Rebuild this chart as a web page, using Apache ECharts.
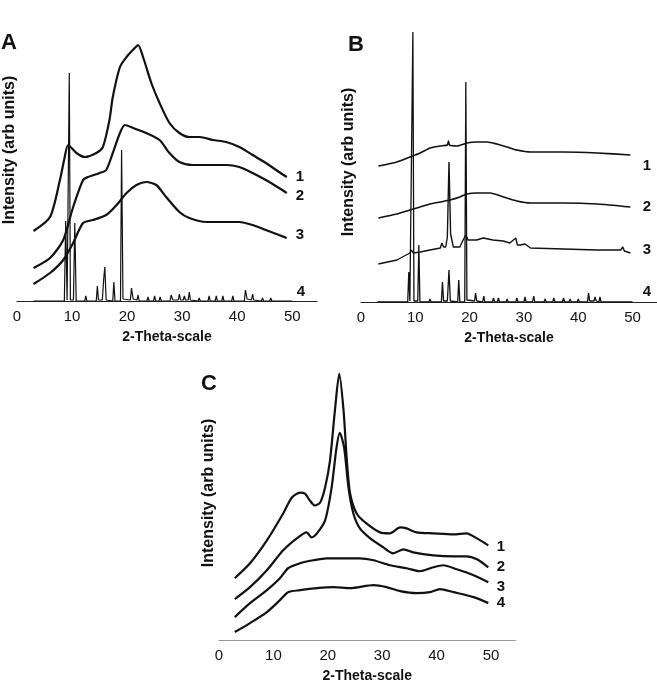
<!DOCTYPE html>
<html>
<head>
<meta charset="utf-8">
<script src="https://cdn.jsdelivr.net/npm/echarts@6/dist/echarts.min.js"></script>
<style>
    html, body {margin: 0; padding: 0; background: #fff;}
    #xrdCharts {width: 657px; height: 684px;}
</style>
</head>
<body>
<div id="xrdCharts"></div>
<script>
// 2-Theta 轴刻度
var thetaTicks = [0, 10, 20, 30, 40, 50];
var traceNames = ["1", "2", "3", "4"];

// 面板 A 的曲线 [2theta, 强度]
var a1 = [[3, 70], [6, 84], [7.8, 121], [8.6, 142], [9.3, 156], [10.8, 148], [12.3, 144], [14.4, 148], [15.6, 154],
    [16.8, 181], [17.4, 204], [18.7, 234], [19.9, 244], [21.4, 253], [22, 256], [22.9, 244], [24.4, 218],
    [25.9, 198], [27.7, 178], [29.5, 168], [31.3, 164], [33.2, 164], [35.6, 161], [38, 159], [40.4, 154],
    [42.8, 146], [45.2, 138], [47.6, 129], [49, 124]];
var a2 = [[3, 33], [6, 43], [8.4, 61], [10.2, 94], [12, 121], [12.9, 124], [15, 128], [16.2, 131], [17.4, 148],
    [18.7, 168], [19.6, 176], [21.1, 173], [23.5, 168], [25.9, 161], [27.7, 148], [29.5, 139], [31.9, 136],
    [34.4, 136], [38, 136], [40.4, 134], [42.8, 128], [45.2, 121], [47.6, 113], [49, 108]];
var a3 = [[3, 17], [6, 28], [8.4, 41], [10.2, 58], [12, 78], [13.8, 81], [16.2, 86], [18.1, 96], [19.9, 108],
    [21.7, 116], [23.5, 119], [25.3, 116], [27.1, 104], [29.5, 89], [31.3, 83], [34.4, 79], [38, 79],
    [40.4, 79], [42.8, 76], [45.2, 71], [47.6, 66], [49, 63]];
var a4 = [[3, 0], [8.6, 0], [8.85, 80], [9.1, 1], [9.3, 1], [9.5, 228], [9.7, 1], [10.25, 1], [10.5, 78], [10.75, 0],
    [12.3, 0], [12.5, 5], [12.7, 0], [14.4, 0], [14.6, 15], [14.8, 1], [15.5, 1], [15.75, 22], [15.95, 34], [16.2, 1],
    [17.4, 0], [17.6, 19], [17.8, 0], [18.8, 0], [19.0, 151], [19.25, 2], [20.6, 1], [20.8, 13], [21.1, 2],
    [21.8, 1], [22.0, 6], [22.2, 0], [23.6, 0], [23.8, 4], [24.0, 0], [24.8, 0], [25.0, 5], [25.2, 0],
    [25.8, 0], [26.0, 4], [26.2, 0], [27.8, 0], [28.0, 6], [28.3, 1], [29.3, 1], [29.5, 7], [29.7, 1],
    [30.2, 1], [30.4, 5], [30.6, 1], [31.1, 1], [31.3, 9], [31.5, 1], [32.9, 0], [33.1, 3], [33.3, 0],
    [34.7, 0], [34.9, 5], [35.1, 0], [36.0, 0], [36.2, 5], [36.4, 0], [37.2, 0], [37.4, 5], [37.6, 0],
    [39.0, 0], [39.2, 5], [39.4, 0], [41.3, 0], [41.5, 11], [41.8, 2], [42.6, 1], [42.8, 7], [43.0, 1],
    [44.4, 0], [44.6, 3], [44.8, 0], [45.9, 0], [46.1, 3], [46.3, 0], [48.0, 0], [48.2, 2], [48.4, 0], [50, 0]];

// 面板 B 的曲线
var b1 = [[3.2, 136], [6.6, 140], [9, 145], [10.9, 149], [12.7, 154], [14.6, 156], [15.9, 157], [16.1, 161],
    [16.3, 157], [17.7, 156], [19.5, 159], [21.3, 160], [23.2, 160], [25, 158], [26.9, 155], [28.7, 152],
    [31.2, 150], [37.3, 150], [43.5, 149], [49.6, 147]];
var b2 = [[3.2, 84], [6.6, 88], [9, 92], [10.9, 95], [12.7, 98], [14.6, 100], [16.4, 102], [18.2, 105],
    [19.5, 108], [21.3, 109], [23.8, 109], [26.2, 105], [28.7, 101], [31.2, 99], [37.3, 99], [43.5, 98], [49.6, 95]];
var b3 = [[3.2, 38], [6.6, 42], [9, 49], [9.3, 52], [9.6, 49], [10.9, 50], [12.7, 52], [14.6, 54], [14.9, 59],
    [15.2, 55], [15.6, 55], [15.9, 65], [16.2, 140], [16.5, 68], [17, 55], [18.2, 55], [18.8, 62], [19.3, 67],
    [19.7, 62], [21.3, 62], [22.5, 64], [24.3, 62], [26.2, 61], [27.4, 59], [28.5, 64], [28.8, 57], [29.3, 57],
    [30.2, 58], [31.2, 54], [37.3, 53], [43.5, 52], [47.8, 52], [48.2, 55], [48.5, 51], [49.6, 49]];
var b4 = [[3, 0], [8.6, 0], [8.8, 30], [9.0, 1], [9.35, 1], [9.55, 270], [9.75, 1], [10.45, 1], [10.65, 57], [10.85, 0],
    [12.5, 0], [12.7, 3], [12.9, 0], [14.8, 0], [15.0, 20], [15.2, 1], [15.9, 1], [16.2, 32], [16.45, 1],
    [17.8, 0], [18.0, 22], [18.2, 0], [19.1, 0], [19.3, 220], [19.5, 2], [20.9, 1], [21.1, 9], [21.3, 1],
    [22.4, 0], [22.6, 6], [22.8, 0], [24.2, 0], [24.4, 4], [24.6, 0], [25.1, 0], [25.3, 4], [25.5, 0],
    [26.7, 0], [26.9, 3], [27.1, 0], [28.5, 0], [28.7, 4], [28.9, 0], [30.0, 0], [30.2, 5], [30.4, 0],
    [31.6, 0], [31.8, 6], [32.0, 0], [33.7, 0], [33.9, 3], [34.1, 0], [35.3, 0], [35.5, 4], [35.7, 0],
    [37.1, 0], [37.3, 4], [37.5, 0], [38.3, 0], [38.5, 3], [38.7, 0], [39.8, 0], [40.0, 3], [40.2, 0],
    [41.7, 0], [41.9, 9], [42.1, 1], [42.9, 1], [43.1, 5], [43.3, 1], [43.8, 0], [44.0, 5], [44.2, 0], [50, 0]];

// 面板 C 的曲线
var c1 = [[2.9, 62], [5.7, 77], [8.8, 100], [11.8, 127], [13.4, 143], [14.9, 148], [15.8, 147], [16.7, 140],
    [17.6, 135], [18.6, 138], [19.5, 153], [20.4, 180], [21.3, 230], [22.1, 267], [22.9, 230], [23.5, 180],
    [24.1, 147], [25.3, 127], [27.1, 117], [29.6, 108], [31.4, 107], [33.3, 113], [34.5, 112], [36.3, 108],
    [39.4, 107], [43.1, 106], [45.5, 107], [47.4, 102], [49.5, 95]];
var c2 = [[2.9, 41], [5.7, 53], [8.8, 70], [11.8, 90], [14.3, 102], [16.1, 108], [17, 103], [18, 107],
    [19.5, 120], [20.7, 153], [21.6, 193], [22.2, 208], [23, 193], [23.8, 153], [24.7, 127], [25.9, 112],
    [27.8, 102], [30.2, 93], [32, 87], [33.9, 91], [35.7, 88], [39.4, 85], [43.1, 84], [45.5, 84],
    [47.4, 81], [49.5, 73]];
var c3 = [[2.9, 23], [5.7, 37], [8.8, 50], [11.2, 62], [12.7, 72], [14.9, 77], [17.3, 80], [19.8, 82],
    [22.2, 82], [25.9, 82], [28.4, 80], [31.4, 75], [34.5, 72], [36.9, 69], [39.4, 73], [41.2, 75],
    [43.7, 71], [46.8, 65], [49.5, 58]];
var c4 = [[2.9, 8], [5.7, 17], [8.8, 28], [11.2, 40], [12.7, 48], [14.9, 50], [18, 52], [21, 53], [24.1, 52],
    [28.4, 55], [30.8, 53], [33.3, 49], [36.3, 47], [38.8, 48], [40.6, 51], [43.1, 48], [46.8, 43], [49.5, 37]];

var FONT = "'Liberation Sans', Arial, Helvetica, sans-serif";
var INK = "#111";

var chartDom = document.getElementById('xrdCharts');
var myChart = echarts.init(chartDom);

function makeXAxis(gridIndex, lineColor) {
    return {
        type: 'value',
        gridIndex: gridIndex,
        min: 0,
        max: 54.5,
        interval: 10,
        name: '2-Theta-scale',
        nameLocation: 'middle',
        nameGap: 29,
        nameTextStyle: {fontFamily: FONT, fontSize: 14, fontWeight: 'bold', color: INK},
        axisLine: {show: true, lineStyle: {color: lineColor, width: 1.2}},
        axisTick: {show: false},
        splitLine: {show: false},
        axisLabel: {
            fontFamily: FONT, fontSize: 15, color: INK, margin: 8,
            showMaxLabel: false,
            formatter: function (v) {
                return thetaTicks.indexOf(v) >= 0 ? String(v) : '';
            }
        }
    };
}

function makeYAxis(gridIndex, max) {
    return {type: 'value', gridIndex: gridIndex, min: 0, max: max, show: false};
}

function makeLine(data, gridIndex, width, smooth) {
    return {
        type: 'line',
        xAxisIndex: gridIndex,
        yAxisIndex: gridIndex,
        data: data,
        showSymbol: false,
        smooth: smooth,
        lineStyle: {color: INK, width: width},
        silent: true
    };
}

function textItem(txt, x, y, size, rotate) {
    return {
        type: 'text',
        x: x,
        y: y,
        rotation: rotate ? Math.PI / 2 : 0,
        style: {
            text: txt,
            fontFamily: FONT,
            fontSize: size,
            fontWeight: 'bold',
            fill: INK,
            textAlign: 'center',
            textVerticalAlign: 'middle'
        }
    };
}

var labelPos = {
    A: [[300, 177], [300, 196], [300, 235], [301, 292]],
    B: [[647, 166], [647, 207], [647, 250], [647, 292]],
    C: [[501, 547], [501, 567], [501, 587], [501, 603]]
};

var graphics = [
    textItem('A', 9, 43, 22, false),
    textItem('B', 356, 45, 22, false),
    textItem('C', 209, 384, 22, false),
    textItem('Intensity (arb units)', 10, 150, 16, true),
    textItem('Intensity (arb units)', 349, 162, 16, true),
    textItem('Intensity (arb units)', 209, 493, 16, true)
];
for (var key in labelPos) {
    labelPos[key].forEach(function (p, i) {
        graphics.push(textItem(traceNames[i], p[0], p[1], 15, false));
    });
}

var option = {
    animation: false,
    backgroundColor: '#fff',
    grid: [
        {left: 17, right: 340, top: 30, bottom: 383},
        {left: 361, right: 0, top: 30, bottom: 382},
        {left: 219, right: 141.5, top: 361, bottom: 43}
    ],
    xAxis: [makeXAxis(0, '#222'), makeXAxis(1, '#222'), makeXAxis(2, '#9a9a9a')],
    yAxis: [makeYAxis(0, 271), makeYAxis(1, 272), makeYAxis(2, 280)],
    graphic: graphics,
    series: [
        makeLine(a1, 0, 2.2, 0.25),
        makeLine(a2, 0, 2.2, 0.25),
        makeLine(a3, 0, 2.2, 0.25),
        makeLine(a4, 0, 1.2, false),
        makeLine(b1, 1, 1.6, 0.2),
        makeLine(b2, 1, 1.6, 0.2),
        makeLine(b3, 1, 1.4, false),
        makeLine(b4, 1, 1.3, false),
        makeLine(c1, 2, 2.2, 0.25),
        makeLine(c2, 2, 2.2, 0.25),
        makeLine(c3, 2, 2.2, 0.25),
        makeLine(c4, 2, 2.2, 0.25)
    ]
};

option && myChart.setOption(option);
</script>
</body>
</html>
